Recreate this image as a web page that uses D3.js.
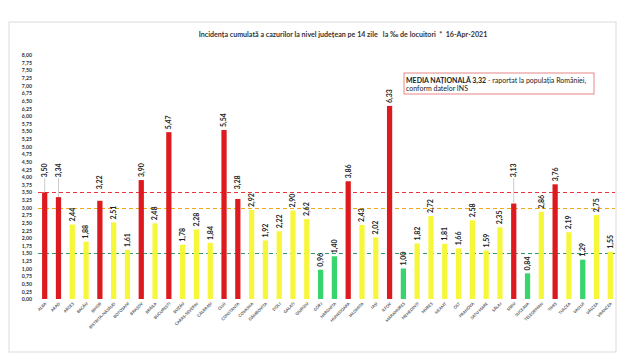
<!DOCTYPE html>
<html><head><meta charset="utf-8">
<script src="https://cdn.jsdelivr.net/npm/d3@7/dist/d3.min.js"></script>
<style>body{margin:0;background:#fff}svg{display:block}</style>
</head><body><svg id="c" width="640" height="359"></svg>
<script>
const counties = ["ALBA","ARAD","ARGEȘ","BACĂU","BIHOR","BISTRIȚA-NĂSĂUD","BOTOȘANI","BRAȘOV","BRĂILA","BUCUREȘTI","BUZĂU","CARAȘ-SEVERIN","CĂLĂRAȘI","CLUJ","CONSTANȚA","COVASNA","DÂMBOVIȚA","DOLJ","GALAȚI","GIURGIU","GORJ","HARGHITA","HUNEDOARA","IALOMIȚA","IAȘI","ILFOV","MARAMUREȘ","MEHEDINȚI","MUREȘ","NEAMȚ","OLT","PRAHOVA","SATU MARE","SĂLAJ","SIBIU","SUCEAVA","TELEORMAN","TIMIȘ","TULCEA","VASLUI","VÂLCEA","VRANCEA"];
const values = [3.50,3.34,2.44,1.88,3.22,2.51,1.61,3.90,2.48,5.47,1.78,2.28,1.84,5.54,3.28,2.92,1.92,2.22,2.90,2.62,0.96,1.40,3.86,2.43,2.02,6.33,1.00,1.82,2.72,1.81,1.66,2.58,1.59,2.35,3.13,0.84,2.86,3.76,2.19,1.29,2.75,1.55];
const yTicks = d3.range(0, 8.001, 0.25);
const thresholds = [3.5, 3.0, 1.5];
const thresholdColors = ["#e8343a", "#f0a818", "#2f9d6a"];
const leaderLabels = ["ALBA","ARAD","SIBIU"];
const title = "Incidența cumulată a cazurilor la nivel județean pe 14 zile   la ‰ de locuitori  *  16-Apr-2021";
const noteBold = "MEDIA NAȚIONALĂ 3,32";
const noteRest = " - raportat la populația României,";
const noteLine2 = "conform datelor INS";

const svg = d3.select("#c");
const fmt = v => d3.format(".2f")(v).replace(".", ",");
const colorOf = v => v > 3 ? "#dc1a1f" : (v >= 1.5 ? "#f7f73a" : "#38d46e");

svg.append("rect").attr("x",9).attr("y",22).attr("width",607).attr("height",330)
  .attr("fill","none").attr("stroke","#e2e2e2").attr("stroke-width",1.2);

const x = d3.scaleBand().domain(counties).range([40, 615]).paddingInner(0.62).paddingOuter(0.15);
const y = d3.scaleLinear().domain([0, 8]).range([299, 55]);

svg.append("text").attr("x",343).attr("y",37).attr("text-anchor","middle")
  .attr("font-family","Lato, 'Open Sans', sans-serif").attr("font-weight","bold")
  .attr("font-size",7.1).attr("fill","#333").attr("xml:space","preserve").text(title);

const yAxis = d3.axisLeft(y).tickValues(yTicks).tickFormat(fmt).tickSize(0).tickPadding(0);
const gy = svg.append("g").attr("transform","translate(32,0)").call(yAxis);
gy.select(".domain").remove();
gy.selectAll("text").attr("font-family","Lato, sans-serif").attr("font-weight","bold")
  .attr("font-size",5.2).attr("fill","#333");

// threshold lines
thresholds.forEach((t,i) => {
  svg.append("line").attr("x1",38).attr("x2",615).attr("y1",Math.round(y(t)) + 0.5).attr("y2",Math.round(y(t)) + 0.5)
    .attr("stroke",thresholdColors[i]).attr("stroke-width",1.2).attr("stroke-dasharray","4,3");
});

// bars
svg.append("g").selectAll("rect").data(counties).join("rect")
  .attr("x", d => x(d)).attr("width", x.bandwidth())
  .attr("y", (d,i) => y(values[i])).attr("height", (d,i) => y(0) - y(values[i]))
  .attr("fill", (d,i) => colorOf(values[i]));

// value labels
const labelBottom = (d,i) => {
  const v = values[i];
  if (leaderLabels.includes(d)) return y(3.5) - 15;
  if (v > 3 && v < 3.55) return y(3.5) - 3;
  return y(v) - 3;
};
svg.append("g").selectAll("line").data(counties.filter(d => leaderLabels.includes(d))).join("line")
  .attr("x1", d => x(d) + x.bandwidth()/2).attr("x2", d => x(d) + x.bandwidth()/2)
  .attr("y1", y(3.5) - 14)
  .attr("y2", d => y(values[counties.indexOf(d)]))
  .attr("stroke","#aaa").attr("stroke-width",0.6);
svg.append("g").selectAll("text").data(counties).join("text")
  .attr("transform", (d,i) => `translate(${x(d) + x.bandwidth()/2 + 2.4},${labelBottom(d,i)}) rotate(-90)`)
  .attr("font-family","Lato, sans-serif").attr("font-weight","bold").attr("font-size",7)
  .attr("fill","#222").text((d,i) => fmt(values[i]));

// x labels
svg.append("g").selectAll("text").data(counties).join("text")
  .attr("transform", d => `translate(${x(d) + x.bandwidth()/2 + 2},${304}) rotate(-45)`)
  .attr("text-anchor","end").attr("font-family","Lato, sans-serif").attr("font-weight","bold")
  .attr("font-size",4).attr("fill","#555").text(d => d);

// note box
svg.append("rect").attr("x",404).attr("y",73).attr("width",190).attr("height",21)
  .attr("fill","#fff").attr("stroke","#e06a6a").attr("stroke-width",0.8);
const t1 = svg.append("text").attr("x",406).attr("y",82.5)
  .attr("font-family","Lato, sans-serif").attr("font-size",7).attr("fill","#222");
t1.append("tspan").attr("font-weight","bold").text(noteBold);
t1.append("tspan").attr("fill","#c0272d").text(" -");
t1.append("tspan").text(noteRest.replace(" - ", " "));
svg.append("text").attr("x",406).attr("y",91)
  .attr("font-family","Lato, sans-serif").attr("font-size",7).attr("fill","#222").text(noteLine2);
</script></body></html>
